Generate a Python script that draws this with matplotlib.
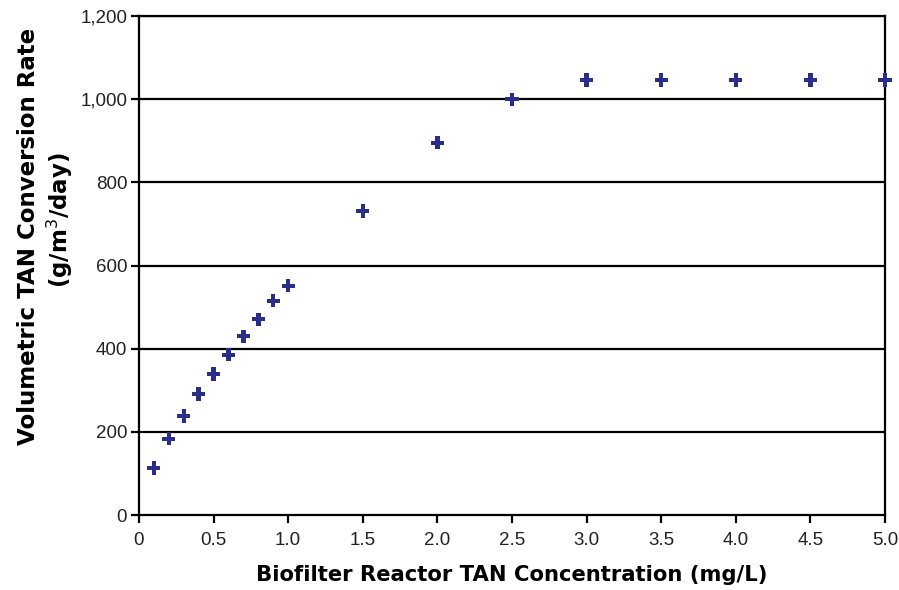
import matplotlib
matplotlib.use('Agg')
import matplotlib.pyplot as plt
import matplotlib.ticker as mticker

# TAN concentration (mg/L) and conversion rate (g/m3/day)
tan_conc = [0.1, 0.2, 0.3, 0.4, 0.5, 0.6, 0.7, 0.8, 0.9, 1.0, 1.5, 2.0, 2.5, 3.0, 3.5, 4.0, 4.5, 5.0]
conv_rate = [113, 183, 238, 291, 339, 385, 430, 471, 515, 551, 731, 895, 1000, 1046, 1046, 1046, 1046, 1046]

x_ticks = [0, 0.5, 1.0, 1.5, 2.0, 2.5, 3.0, 3.5, 4.0, 4.5, 5.0]
x_tick_labels = ['0', '0.5', '1.0', '1.5', '2.0', '2.5', '3.0', '3.5', '4.0', '4.5', '5.0']
y_ticks = [0, 200, 400, 600, 800, 1000, 1200]

plt.rcParams['font.family'] = ['Liberation Sans', 'DejaVu Sans']

fig = plt.figure(figsize=(8.99, 5.90), dpi=100)
ax = fig.add_axes([0.1546, 0.1271, 0.8298, 0.8458])

# horizontal grid lines
for y in y_ticks[1:]:
    ax.axhline(y, color='black', lw=1.6, zorder=1)

ax.scatter(tan_conc, conv_rate, marker='P', s=90, color='#2a2d8a', edgecolors='none', zorder=3, clip_on=False)

ax.set_xlim(0, 5.0)
ax.set_ylim(0, 1200)
ax.set_xticks(x_ticks)
ax.set_xticklabels(x_tick_labels)
ax.set_yticks(y_ticks)
ax.yaxis.set_major_formatter(mticker.FuncFormatter(lambda v, p: f'{int(v):,}'))

for side in ['left', 'right', 'top', 'bottom']:
    ax.spines[side].set_linewidth(1.6)
    ax.spines[side].set_color('black')

ax.tick_params(axis='both', direction='out', length=5.5, width=1.6, labelsize=13.5, colors='black', labelcolor='#222222')
ax.tick_params(axis='x', pad=7)
ax.tick_params(axis='y', pad=3)

ax.set_xlabel('Biofilter Reactor TAN Concentration (mg/L)', fontsize=15.2, fontweight='bold',
              family='DejaVu Sans', labelpad=11)

# two-line y label, placed as in the original
fig.text(29 / 899, 1 - 236 / 590, 'Volumetric TAN Conversion Rate', rotation=90, ha='center', va='center',
         fontsize=16.5, fontweight='bold', family='DejaVu Sans')
fig.text(60 / 899, 1 - 220 / 590, '(g/m$^3$/day)', rotation=90, ha='center', va='center',
         fontsize=16.5, fontweight='bold', family='DejaVu Sans')

fig.savefig('out.png', dpi=100)
